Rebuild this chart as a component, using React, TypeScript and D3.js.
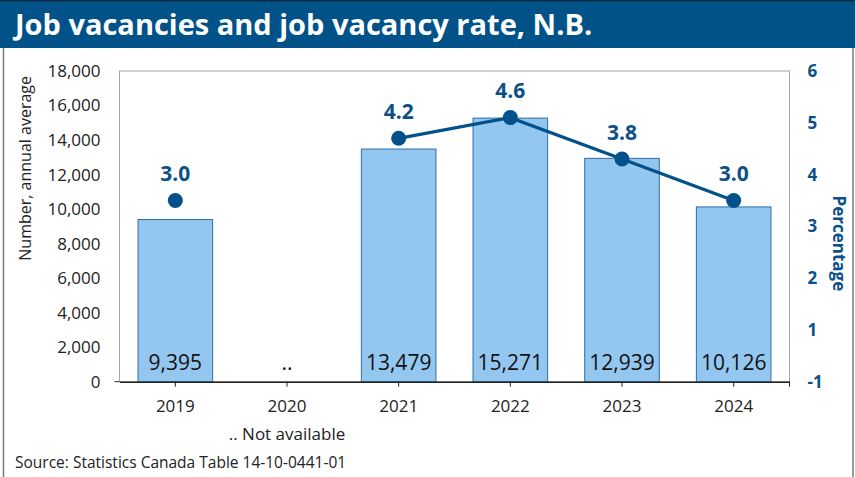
import { useEffect, useRef } from 'react'
import * as d3 from 'd3'

// Chart data
const years = ['2019', '2020', '2021', '2022', '2023', '2024']
const vacancies: (number | null)[] = [9395, null, 13479, 15271, 12939, 10126]
const rates: (number | null)[] = [3.0, null, 4.2, 4.6, 3.8, 3.0]
const leftTicks = [0, 2000, 4000, 6000, 8000, 10000, 12000, 14000, 16000, 18000]
// right axis runs -0.5..5.5, labels rounded half away from zero
const rightTicks = [-0.5, 0.5, 1.5, 2.5, 3.5, 4.5, 5.5]

const title = 'Job vacancies and job vacancy rate, N.B.'
const leftTitle = 'Number, annual average'
const rightTitle = 'Percentage'
const note = '.. Not available'
const source = 'Source: Statistics Canada Table 14-10-0441-01'

const W = 855
const H = 477
const FONT = "'Open Sans', 'Noto Sans', sans-serif"
const DARK = '#0d5089'

const App = () => {
	const svgRef = useRef<SVGSVGElement>(null)

	useEffect(() => {
		const svg = d3.select(svgRef.current)
		svg.selectAll('*').remove()

		const plot = { left: 119.5, right: 789.5, top: 71, bottom: 381.7 }

		const x = d3.scaleBand().domain(years).range([plot.left, plot.right]).paddingInner(0.332).paddingOuter(0.166)
		const yL = d3.scaleLinear().domain([0, 18000]).range([plot.bottom, plot.top])
		const yR = d3.scaleLinear().domain([-0.5, 5.5]).range([plot.bottom, plot.top])
		const cx = (y: string) => (x(y) ?? 0) + x.bandwidth() / 2

		svg.attr('width', W).attr('height', H).style('font-family', FONT)

		// background + outer frame
		svg.append('rect').attr('x', 0).attr('y', 0).attr('width', W).attr('height', H).attr('fill', '#fff')
		svg
			.append('rect')
			.attr('x', 3.5)
			.attr('y', 40)
			.attr('width', 849.5)
			.attr('height', H)
			.attr('fill', 'none')
			.attr('stroke', '#7a7a7a')
			.attr('stroke-width', 1.5)

		// title bar
		svg.append('rect').attr('x', 0).attr('y', 0).attr('width', W).attr('height', 48).attr('fill', '#005288')
		svg.append('rect').attr('x', 0).attr('y', 0).attr('width', W).attr('height', 1.5).attr('fill', '#0b2a44')
		svg
			.append('text')
			.attr('x', 15)
			.attr('y', 35)
			.attr('fill', '#fff')
			.style('font-size', '29px')
			.style('font-weight', 700)
			.text(title)

		// plot area border
		svg
			.append('rect')
			.attr('x', plot.left)
			.attr('y', plot.top)
			.attr('width', plot.right - plot.left)
			.attr('height', plot.bottom - plot.top)
			.attr('fill', 'none')
			.attr('stroke', '#a6a6a6')
			.attr('stroke-width', 1)

		// bars
		years.forEach((yr, i) => {
			const v = vacancies[i]
			if (v == null) return
			svg
				.append('rect')
				.attr('x', x(yr)!)
				.attr('y', yL(v))
				.attr('width', x.bandwidth())
				.attr('height', yL(0) - yL(v))
				.attr('fill', '#94c7ef')
				.attr('stroke', '#2f6ea6')
				.attr('stroke-width', 1)
		})

		// bar value labels
		years.forEach((yr, i) => {
			const v = vacancies[i]
			svg
				.append('text')
				.attr('x', cx(yr))
				.attr('y', 370)
				.attr('text-anchor', 'middle')
				.attr('fill', '#111')
				.style('font-size', '21px')
				.text(v == null ? '..' : d3.format(',')(v))
		})

		// x axis
		const xAxis = svg
			.append('g')
			.attr('transform', `translate(0,${plot.bottom})`)
			.call(d3.axisBottom(x).tickSize(5).tickPadding(13).tickSizeOuter(0))
		xAxis.select('.domain').attr('stroke', '#222').attr('stroke-width', 1.5)
		xAxis.selectAll('.tick line').attr('stroke', '#222')
		xAxis.selectAll('text').style('font-size', '17px').style('font-family', FONT).attr('fill', '#222')
		svg
			.append('line')
			.attr('x1', plot.left - 5)
			.attr('x2', plot.left)
			.attr('y1', plot.bottom)
			.attr('y2', plot.bottom)
			.attr('stroke', '#222')
		svg
			.append('line')
			.attr('x1', plot.right)
			.attr('x2', plot.right)
			.attr('y1', plot.bottom)
			.attr('y2', plot.bottom + 5)
			.attr('stroke', '#222')

		// left axis
		const lAxis = svg
			.append('g')
			.attr('transform', `translate(${plot.left},0)`)
			.call(d3.axisLeft(yL).tickValues(leftTicks).tickSize(0).tickPadding(19).tickFormat(d3.format(',')))
		lAxis.select('.domain').remove()
		lAxis.selectAll('text').style('font-size', '17px').style('font-family', FONT).attr('fill', '#222')

		// right axis
		const rAxis = svg
			.append('g')
			.attr('transform', `translate(${plot.right},0)`)
			.call(
				d3
					.axisRight(yR)
					.tickValues(rightTicks)
					.tickSize(0)
					.tickPadding(18)
					.tickFormat((d) => String(Math.sign(+d) * Math.round(Math.abs(+d))))
			)
		rAxis.select('.domain').remove()
		rAxis
			.selectAll('text')
			.style('font-size', '17px')
			.style('font-weight', 700)
			.style('font-family', FONT)
			.attr('fill', DARK)

		// axis titles
		svg
			.append('text')
			.attr('transform', `translate(31,${(plot.top + plot.bottom) / 2 - 58}) rotate(-90)`)
			.attr('text-anchor', 'middle')
			.attr('fill', '#222')
			.style('font-size', '16px')
			.text(leftTitle)
		svg
			.append('text')
			.attr('transform', `translate(833,${(plot.top + plot.bottom) / 2 + 17}) rotate(90)`)
			.attr('text-anchor', 'middle')
			.attr('fill', DARK)
			.style('font-size', '17px')
			.style('font-weight', 700)
			.text(rightTitle)

		// rate line
		const pts = years.map((yr, i) => ({ yr, v: rates[i] }))
		const line = d3
			.line<{ yr: string; v: number | null }>()
			.defined((d) => d.v != null)
			.x((d) => cx(d.yr))
			.y((d) => yR(d.v as number))
		svg
			.append('path')
			.datum(pts)
			.attr('d', line)
			.attr('fill', 'none')
			.attr('stroke', '#03518a')
			.attr('stroke-width', 3.3)

		const dots = pts.filter((d) => d.v != null)
		svg
			.selectAll('circle.dot')
			.data(dots)
			.enter()
			.append('circle')
			.attr('class', 'dot')
			.attr('cx', (d) => cx(d.yr))
			.attr('cy', (d) => yR(d.v as number))
			.attr('r', 7.5)
			.attr('fill', '#03518a')

		svg
			.selectAll('text.rate')
			.data(dots)
			.enter()
			.append('text')
			.attr('class', 'rate')
			.attr('x', (d) => cx(d.yr))
			.attr('y', (d) => yR(d.v as number) - 19.5)
			.attr('text-anchor', 'middle')
			.attr('fill', DARK)
			.style('font-size', '21px')
			.style('font-weight', 700)
			.text((d) => d3.format('.1f')(d.v as number))

		// notes
		svg
			.append('text')
			.attr('x', cx('2020'))
			.attr('y', 440)
			.attr('text-anchor', 'middle')
			.attr('fill', '#222')
			.style('font-size', '17px')
			.text(note)
		svg
			.append('text')
			.attr('x', 15)
			.attr('y', 468)
			.attr('fill', '#222')
			.style('font-size', '15.5px')
			.text(source)
	}, [])

	return (
		<div style={{ position: 'absolute', left: 0, top: 0 }}>
			<svg ref={svgRef} style={{ display: 'block' }}></svg>
		</div>
	)
}

export default App
